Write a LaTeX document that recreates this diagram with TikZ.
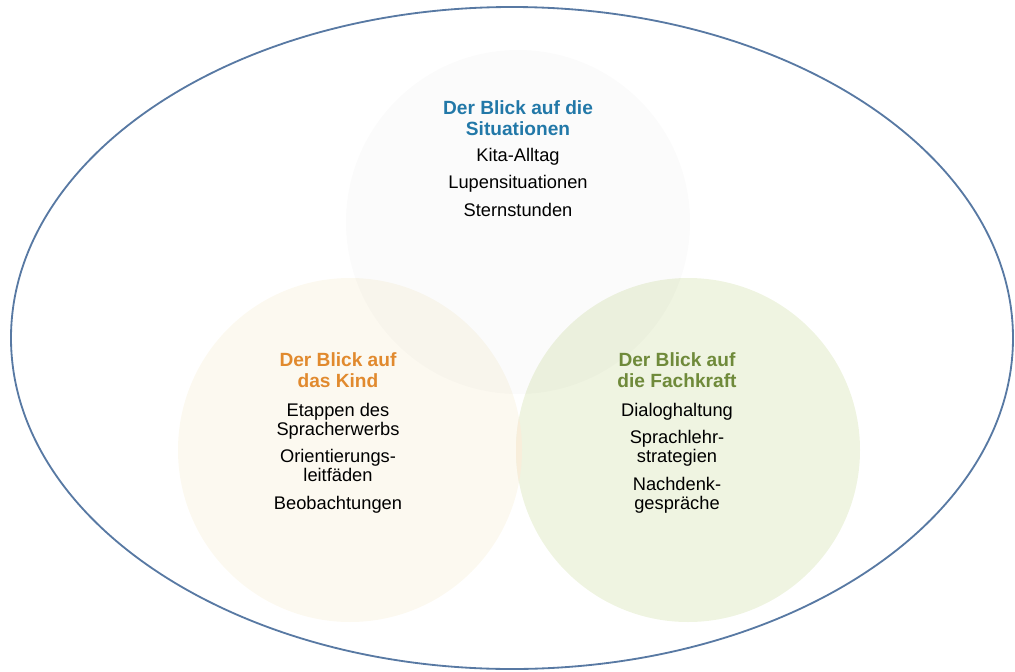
\documentclass[tikz,border=0pt]{standalone}
\usepackage{fontspec}
\setmainfont{Liberation Sans}
\definecolor{rimblue}{HTML}{5879A3}
\definecolor{sitblue}{HTML}{2278A8}
\definecolor{kindorange}{HTML}{E18A2E}
\definecolor{kraftgreen}{HTML}{6F8A3A}
\definecolor{kindfill}{HTML}{FCF9F0}
\definecolor{kraftfill}{HTML}{EFF4E1}
\definecolor{lensfill}{HTML}{F8EEDB}
\begin{document}
\begin{tikzpicture}[x=0.025cm, y=-0.025cm,
  blicktitle/.style={anchor=base, align=center, font=\bfseries\fontsize{13.6}{14.9}\selectfont},
  blickitems/.style={anchor=base, align=center, font=\fontsize{13}{13.5}\selectfont}]
\useasboundingbox (0,0) rectangle (1015,672);

% the three circles
\fill[kindfill] (350,450) circle [radius=172];
\fill[kraftfill] (688,450) circle [radius=172];
\begin{scope}
\clip (350,450) circle [radius=172];
\fill[lensfill] (688,450) circle [radius=172];
\end{scope}
\fill[black, fill opacity=0.014] (518,222) circle [radius=172];

% outer ellipse
\draw[rimblue, line width=1.3pt] (512,338) ellipse [x radius=501, y radius=331];

% texts (base = last line)
\node[blicktitle, text=sitblue] (sittitle) at (518,135) {Der Blick auf die\\Situationen};
\node[blickitems] (sititems) at (518,216) {Kita-Alltag\\[6pt]Lupensituationen\\[6pt]Sternstunden};
\node[blicktitle, text=kindorange] (kindtitle) at (338,387) {Der Blick auf\\das Kind};
\node[blickitems] (kinditems) at (338,509) {Etappen des\\Spracherwerbs\\[6pt]Orientierungs-\\leitfäden\\[6pt]Beobachtungen};
\node[blicktitle, text=kraftgreen] (krafttitle) at (677,387) {Der Blick auf\\die Fachkraft};
\node[blickitems] (kraftitems) at (677,509) {Dialoghaltung\\[6pt]Sprachlehr-\\strategien\\[6pt]Nachdenk-\\gespräche};
\end{tikzpicture}
\end{document}
